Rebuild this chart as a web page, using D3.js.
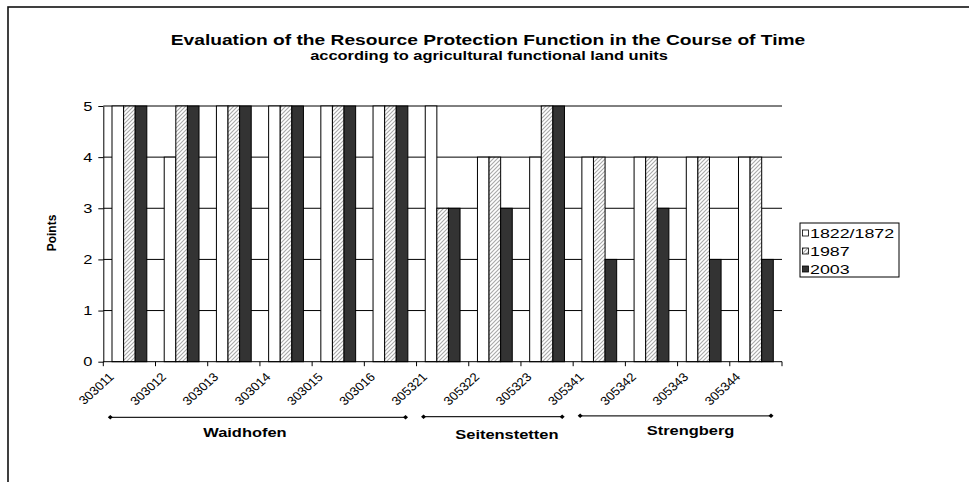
<!DOCTYPE html>
<html><head><meta charset="utf-8">
<script src="https://cdn.jsdelivr.net/npm/d3@7"></script>
<style>
body{margin:0;background:#fff}
svg{display:block}
text{font-family:"Liberation Sans",Arial,Helvetica,sans-serif;fill:#000}
</style></head>
<body><svg id="c" width="969" height="482"></svg>
<script>
// ---- data ----
const categories = ["303011","303012","303013","303014","303015","303016","305321","305322","305323","305341","305342","305343","305344"];
const series = ["1822/1872","1987","2003"];
const values1822 = [5,4,5,5,5,5,5,4,4,4,4,4,4];
const values1987 = [5,5,5,5,5,5,3,4,5,4,4,4,4];
const values2003 = [5,5,5,5,5,5,3,3,5,2,3,2,2];
const yTicks = [0,1,2,3,4,5];
const groupNames = ["Waidhofen","Seitenstetten","Strengberg"];
const groupFirst = ["303011","305321","305341"];
const groupLast = ["303016","305323","305344"];
const titleText = "Evaluation of the Resource Protection Function in the Course of Time";
const subtitleText = "according to agricultural functional land units";
const yTitle = "Points";

// ---- layout ----
const SX = 1.37;      // horizontal text stretch of the original picture
const SX_LABEL = 1.1; // stretch of the rotated category labels
const groupLabelDx = [-13, 14, 15];
const groupLabelY = [437, 439, 435];
const groupLineY = [417.3, 416.7, 415.8];
const m = {left:103.3, right:782, top:106, bottom:361.7};
const svg = d3.select("#c");

const seriesValues = [values1822, values1987, values2003];
const seriesFill = ["#ffffff","url(#hatch)","#333333"];

const x = d3.scaleBand().domain(categories).range([m.left, m.right]).padding(0);
const xs = d3.scaleBand().domain(series).range([0, x.bandwidth()]).paddingInner(0).paddingOuter(0.75);
const y = d3.scaleLinear().domain([0,5]).range([m.bottom, m.top]);

const defs = svg.append("defs");
const pat = defs.append("pattern").attr("id","hatch").attr("patternUnits","userSpaceOnUse")
  .attr("width",4).attr("height",4);
pat.append("rect").attr("width",4).attr("height",4).attr("fill","#fff");
pat.append("path").attr("d","M-1,1 l2,-2 M0,4 l4,-4 M3,5 l2,-2")
  .attr("stroke","#a8a8a8").attr("stroke-width",1.1);

function stext(g, px, py, str, size, weight, anchor){
  return g.append("text")
    .attr("transform",`translate(${px},${py}) scale(${SX},1)`)
    .attr("text-anchor",anchor||"middle")
    .style("font-size",size+"px").style("font-weight",weight||"normal")
    .text(str);
}

// chart border
svg.append("rect").attr("x",8).attr("y",7).attr("width",1200).attr("height",1200)
  .attr("fill","none").attr("stroke","#111").attr("stroke-width",1.6);

// titles
stext(svg, 488, 44.5, titleText, 14, "bold");
stext(svg, 489, 60, subtitleText, 12, "bold");

// gridlines
svg.append("g").selectAll("line").data(yTicks.filter(d=>d>0)).join("line")
  .attr("x1",m.left).attr("x2",m.right).attr("y1",d=>y(d)).attr("y2",d=>y(d))
  .attr("stroke","#000").attr("stroke-width",1);

// bars
series.forEach((s,si)=>{
  svg.append("g").selectAll("rect").data(categories).join("rect")
    .attr("x",c=>x(c)+xs(s))
    .attr("y",(c,i)=>y(seriesValues[si][i]))
    .attr("width",xs.bandwidth())
    .attr("height",(c,i)=>y(0)-y(seriesValues[si][i]))
    .attr("fill",seriesFill[si]).attr("stroke","#000").attr("stroke-width",1);
});

// y axis
const ya = svg.append("g").attr("transform",`translate(${m.left},0)`)
  .call(d3.axisLeft(y).tickValues(yTicks).tickFormat(d3.format("d")).tickSize(5).tickSizeOuter(0));
ya.select(".domain").attr("stroke","#000");
ya.selectAll(".tick line").attr("stroke","#000");
ya.selectAll(".tick text").attr("x",null).attr("dy",null)
  .attr("transform",`translate(-11,4.2) scale(${SX},1)`)
  .style("font-size","12px").style("font-family",'"Liberation Sans",Arial,sans-serif');

// x axis line and ticks at category boundaries
svg.append("line").attr("x1",m.left).attr("x2",m.right).attr("y1",y(0)).attr("y2",y(0)).attr("stroke","#000");
const bounds = categories.map(c=>x(c)).concat([x(categories[categories.length-1])+x.bandwidth()]);
svg.append("g").selectAll("line").data(bounds).join("line")
  .attr("x1",d=>d).attr("x2",d=>d).attr("y1",y(0)).attr("y2",y(0)+4.5).attr("stroke","#000");
svg.append("g").selectAll("text").data(categories).join("text")
  .attr("transform",c=>`translate(${x(c)+11.5},${y(0)+16}) scale(${SX_LABEL},1) rotate(-45)`)
  .attr("text-anchor","end").style("font-size","12px").text(c=>c);

// y title
svg.append("text").attr("transform","translate(56,233) rotate(-90)")
  .attr("text-anchor","middle").style("font-size","12px").style("font-weight","bold").text(yTitle);

// group brackets
groupNames.forEach((g,i)=>{
  const x1 = x(groupFirst[i]) + 7;
  const x2 = x(groupLast[i]) + x.bandwidth() - 11;
  const gy = groupLineY[i];
  svg.append("line").attr("x1",x1).attr("x2",x2).attr("y1",gy).attr("y2",gy)
    .attr("stroke","#222").attr("stroke-width",1.2);
  [x1,x2].forEach(px=>{
    svg.append("path").attr("d",`M${px-2.5},${gy} L${px},${gy-2.2} L${px+2.5},${gy} L${px},${gy+2.2}Z`).attr("fill","#000");
  });
  stext(svg, (x1+x2)/2 + groupLabelDx[i], groupLabelY[i], g, 12, "bold");
});

// legend
const lg = svg.append("g");
lg.append("rect").attr("x",800).attr("y",223).attr("width",99).attr("height",54)
  .attr("fill","#fff").attr("stroke","#000").attr("stroke-width",1);
series.forEach((s,i)=>{
  const cy = 233 + i*18;
  lg.append("rect").attr("x",802.5).attr("y",cy-3).attr("width",6).attr("height",6)
    .attr("fill",seriesFill[i]).attr("stroke","#000").attr("stroke-width",0.8);
  stext(lg, 810, cy+4.5, s, 13, "normal", "start");
});
</script></body></html>
